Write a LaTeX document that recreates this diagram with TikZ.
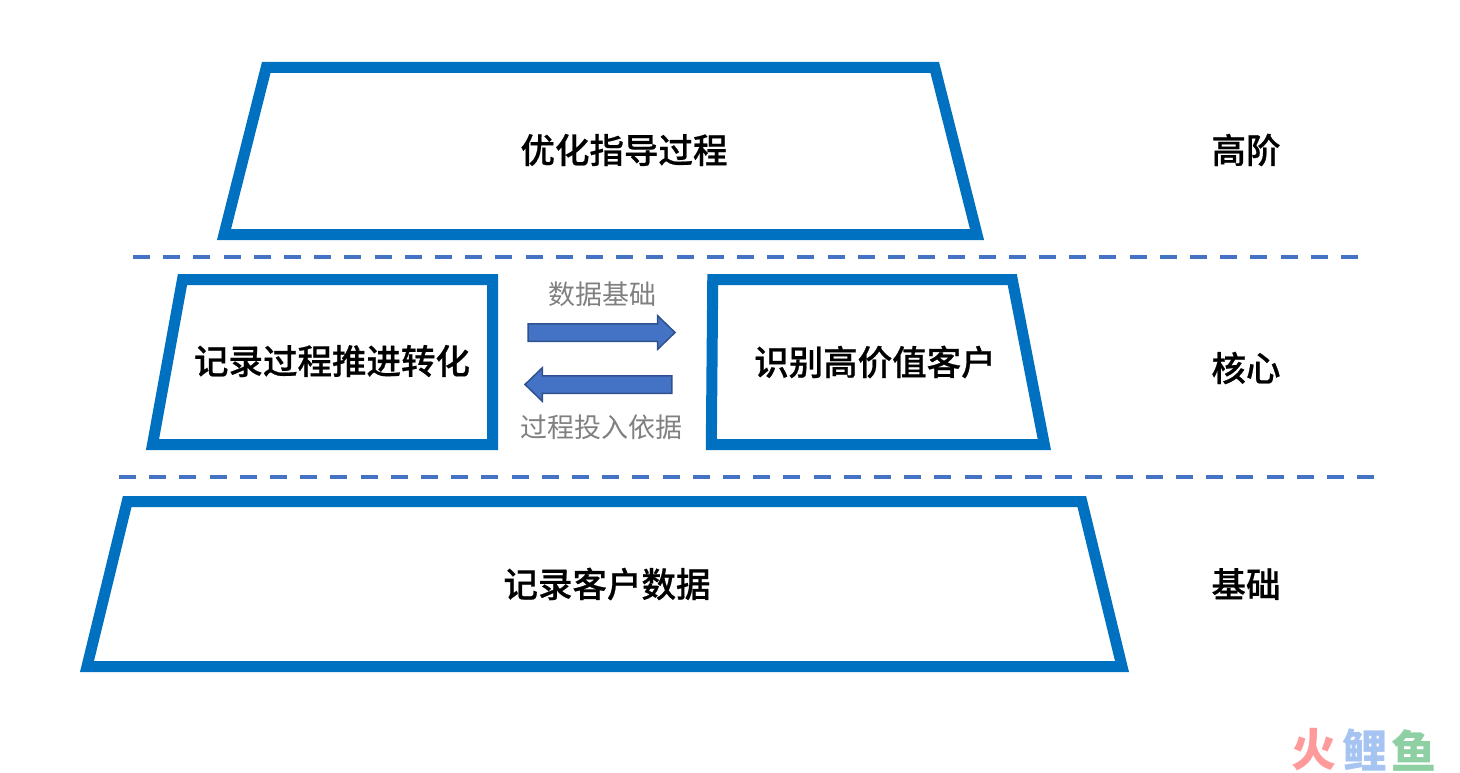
\documentclass[tikz,border=0pt]{standalone}
\usepackage{fontspec}
\setmainfont{Noto Sans CJK SC}[BoldFont={Noto Sans CJK SC Medium},BoldFeatures={FakeBold=0.6}]
\newfontfamily\brandfont{Noto Sans CJK SC Black}
\usetikzlibrary{shapes.geometric,shapes.arrows}
\definecolor{stageblue}{HTML}{0070C0}
\definecolor{arrowblue}{HTML}{4472C4}
\definecolor{arrowedge}{HTML}{2F528F}
\definecolor{brandred}{HTML}{FF9A9A}
\definecolor{brandblue}{HTML}{A6C4F2}
\definecolor{brandgreen}{HTML}{8FCFA4}

\begin{document}
\begin{tikzpicture}[x=1pt,y=-1pt]
\tikzstyle{stage}=[trapezium,trapezium stretches body=true,draw=stageblue,line width=11pt,inner xsep=5pt,inner ysep=82.5pt]
\tikzstyle{title}=[font=\fontsize{34.5}{40}\selectfont\bfseries,inner sep=0pt]
\tikzstyle{note}=[font=\fontsize{27}{32}\selectfont,text=gray,inner sep=0pt]
\tikzstyle{flow}=[single arrow,fill=arrowblue,draw=arrowedge,line width=1.5pt,inner xsep=0pt,inner ysep=8pt,minimum height=147pt,single arrow head extend=8pt,single arrow head indent=0pt,single arrow tip angle=88]
\tikzstyle{divider}=[draw=arrowblue,line width=4pt,dash pattern=on 17pt off 13.2pt]
\tikzstyle{brand}=[font=\fontsize{45}{50}\selectfont\brandfont,inner sep=0pt]
\useasboundingbox (0,0) rectangle (1460,773);
% stages
\node[stage,trapezium left angle=75.8,trapezium right angle=75.8,minimum width=753pt,inner ysep=83.5pt] (top) at (600.5,151) {};
\node[stage,trapezium left angle=79.7,trapezium right angle=90,minimum width=340pt] (left) at (337.5,362) {};
\node[stage,trapezium left angle=89.5,trapezium right angle=79,minimum width=333pt] (right) at (862.5,362) {};
\node[stage,trapezium left angle=76.3,trapezium right angle=76.3,minimum width=1035pt] (base) at (604.5,584) {};
\node[title] (toptext) at (624,150) {优化指导过程};
\node[title] (lefttext) at (332,361) {记录过程推进转化};
\node[title] (righttext) at (875,362) {识别高价值客户};
\node[title] (basetext) at (607,584) {记录客户数据};
% levels
\node[title] (high) at (1246,150) {高阶};
\node[title] (core) at (1246,368) {核心};
\node[title] (found) at (1246,584) {基础};
% dividers
\coordinate (d1a) at (133,257);
\coordinate (d1b) at (1358,257);
\coordinate (d2a) at (119,477);
\coordinate (d2b) at (1374,477);
\draw[divider] (d1a) -- (d1b);
\draw[divider] (d2a) -- (d2b);
% arrows
\node[flow] (forward) at (597,332.5) {};
\node[flow,shape border rotate=180] (back) at (603,384.5) {};
\node[note] (forwardtext) at (602,294) {数据基础};
\node[note] (backtext) at (601,427) {过程投入依据};
% mark
\node[brand,text=brandred] (mark1) at (1314,750) {火};
\node[brand,text=brandblue] (mark2) at (1365,750) {鲤};
\node[brand,text=brandgreen] (mark3) at (1414,750) {鱼};
\end{tikzpicture}
\end{document}
